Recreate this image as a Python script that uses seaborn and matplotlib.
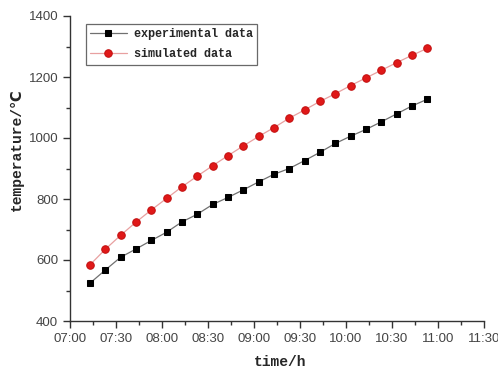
import matplotlib
matplotlib.use("Agg")
import matplotlib.pyplot as plt
import matplotlib.dates as mdates
from matplotlib.ticker import MultipleLocator
import seaborn as sns
import pandas as pd

times = ["07:13", "07:23", "07:33", "07:43", "07:53", "08:03", "08:13", "08:23",
         "08:33", "08:43", "08:53", "09:03", "09:13", "09:23", "09:33", "09:43",
         "09:53", "10:03", "10:13", "10:23", "10:33", "10:43", "10:53"]
experimental = [524, 567, 609, 636, 664, 691, 725, 750, 782, 805, 830, 856,
                881, 900, 926, 953, 982, 1006, 1028, 1053, 1079, 1105, 1127]
simulated = [584, 635, 681, 724, 764, 802, 840, 875, 909, 942, 974, 1005,
             1034, 1065, 1092, 1120, 1145, 1172, 1197, 1222, 1247, 1271, 1294]
series_names = ["experimental data", "simulated data"]
x_ticks = ["07:00", "07:30", "08:00", "08:30", "09:00", "09:30", "10:00",
           "10:30", "11:00", "11:30"]

sns.set_style("ticks")
plt.rcParams['font.family'] = ['Liberation Sans', 'DejaVu Sans']

def to_dt(s):
    return pd.Timestamp("2000-01-01 " + s)

df = pd.DataFrame({"time": [to_dt(t) for t in times],
                   "exp": experimental, "sim": simulated})

fig = plt.figure(figsize=(4.98, 3.72), dpi=100)
ax = fig.add_axes([70/498, 1 - 321/372, (484 - 70)/498, (321 - 16)/372])

sns.lineplot(data=df, x="time", y="exp", ax=ax, color="#707070", lw=0.9,
             marker="s", markersize=4.4, markerfacecolor="black",
             markeredgecolor="black", label=series_names[0])
sns.lineplot(data=df, x="time", y="sim", ax=ax, color="#e8a0a0", lw=0.9,
             marker="o", markersize=5.4, markerfacecolor="#e01818",
             markeredgecolor="#c41010", label=series_names[1])

ax.set_xlim(to_dt(x_ticks[0]), to_dt(x_ticks[-1]))
ax.set_ylim(400, 1400)
ax.set_xticks([to_dt(t) for t in x_ticks])
ax.set_xticklabels(x_ticks)
ax.xaxis.set_minor_locator(mdates.MinuteLocator(byminute=[15, 45]))
ax.yaxis.set_major_locator(MultipleLocator(200))
ax.yaxis.set_minor_locator(MultipleLocator(100))

for sp in ["top", "right"]:
    ax.spines[sp].set_visible(False)
for sp in ["left", "bottom"]:
    ax.spines[sp].set_color("#333333")
    ax.spines[sp].set_linewidth(1.0)

ax.tick_params(axis="both", which="major", direction="out", length=5,
               width=1.0, color="#333333", labelsize=9.5, labelcolor="#444444")
ax.tick_params(axis="both", which="minor", direction="out", length=3,
               width=1.0, color="#333333")

mono = ['Liberation Mono', 'DejaVu Sans Mono', 'DejaVu Sans']
ax.set_xlabel("time/h", family=mono, fontweight="bold", fontsize=10.5)
ax.set_ylabel("temperature/℃", family=mono, fontweight="bold", fontsize=10.5)
ax.xaxis.set_label_coords((280 - 70)/414, (321 - 355)/305)
ax.yaxis.set_label_coords((24 - 70)/414, (321 - 150)/305)

leg = ax.legend(loc="upper left", bbox_to_anchor=((86 - 70)/414, (321 - 24)/305),
                borderaxespad=0, frameon=True, fancybox=False, edgecolor="#444444",
                prop={"family": mono, "weight": "bold", "size": 8.5},
                handlelength=3.1, borderpad=0.35, labelspacing=0.7,
                handletextpad=0.6)
leg.get_frame().set_linewidth(0.9)

fig.savefig("out.png", dpi=100, facecolor="white")
